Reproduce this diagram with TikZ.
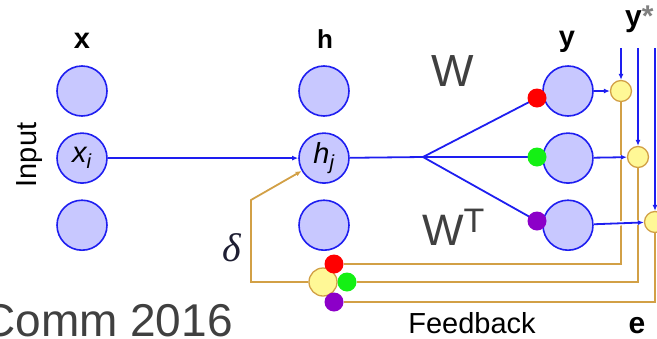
\documentclass[tikz,border=0pt]{standalone}
\usepackage{fontspec}
\setmainfont{Liberation Sans}
\newfontfamily\greekfont{Liberation Serif}
\usetikzlibrary{positioning, arrows.meta}

\definecolor{netblue}{RGB}{30,30,240}
\definecolor{unitfill}{RGB}{200,200,255}
\definecolor{fbgold}{RGB}{210,160,70}
\definecolor{errfill}{RGB}{255,248,150}
\definecolor{textgray}{RGB}{64,64,64}
\definecolor{dotred}{RGB}{255,0,0}
\definecolor{dotgreen}{RGB}{20,240,20}
\definecolor{dotpurple}{RGB}{140,0,200}

\begin{document}
\begin{tikzpicture}[
  x=1pt, y=-1pt,          % 1 unit = 1 pixel, y downwards
  >={Latex[length=6pt, width=5pt]},
  unit/.style={circle, draw=netblue, fill=unitfill, line width=1.6pt, minimum size=50pt, inner sep=0pt,
               font=\fontsize{29}{29}\selectfont\itshape},
  errnode/.style={circle, draw=fbgold, fill=errfill, line width=1.3pt, minimum size=21pt, inner sep=0pt},
  wdot/.style={circle, fill=#1, minimum size=19pt, inner sep=0pt},
  wire/.style={netblue, line width=1.8pt},
  fb/.style={fbgold, line width=1.8pt},
  lab/.style={font=\fontsize{#1}{#1}\selectfont\bfseries, anchor=base, inner sep=0pt},
  big/.style={font=\fontsize{#1}{#1}\selectfont, text=textgray, anchor=base, inner sep=0pt},
  node distance=15.5pt    % gap between the circles of one column
  ]

  \useasboundingbox (0,0) rectangle (657,338);

  % --- input layer x ---
  \node [unit] (x1) at (82,91) {};
  \node [unit, below=of x1] (x2) {x\textsubscript{i}};
  \node [unit, below=of x2] (x3) {};
  \node [lab=29] (xlab) at (82,48) {x};
  \node [font=\fontsize{29}{29}\selectfont, rotate=90, anchor=base, inner sep=0pt] (inlab) at (36,155) {Input};

  % --- hidden layer h ---
  \node [unit] (h1) at (324,91) {};
  \node [unit, below=of h1] (h2) {h\textsubscript{j}};
  \node [unit, below=of h2] (h3) {};
  \node [lab=26] (hlab) at (325,48) {h};

  % --- output layer y ---
  \node [unit] (y1) at (568,91) {};
  \node [unit, below=of y1] (y2) {};
  \node [unit, below=of y2] (y3) {};
  \node [lab=29] (ylab) at (567,46) {y};
  \node [lab=30, anchor=base west] (tlab) at (625,26) {y\textcolor{gray}{*}};

  % --- error units e ---
  \node [errnode] (e1) at (621,91) {};
  \node [errnode] (e2) at (638,157) {};
  \node [errnode] (e3) at (655,222) {};
  \coordinate (t1) at (621,48);
  \coordinate (t2) at (638,48);
  \coordinate (t3) at (655,48);

  % --- feedback sum ---
  \coordinate (br) at (423,157);
  \coordinate (fbc) at (251,282);
  \coordinate (fbt) at (251,200);
  \node [errnode, minimum size=28pt] (fbsum) at (323,282) {};
  \node [wdot=dotred] (fr) at (334,264) {};
  \node [wdot=dotgreen] (fg) at (347,282) {};
  \node [wdot=dotpurple] (fp) at (334,302) {};

  % feedback lines (gold)
  \draw [fb] (e1) |- (fr);
  \draw [fb] (e2) |- (fg);
  \draw [fb] (e3) |- (fp);
  \draw [fb, ->] (fbsum) -- (fbc) -- (fbt) -- (h2);

  % forward lines (blue)
  \draw [wire, ->] (x2) -- (h2);
  \draw [wire] (h2) -- (br);
  \draw [wire] (br) -- (537,98);
  \draw [wire] (br) -- (537,157);
  \draw [wire] (br) -- (537,221);
  \node [wdot=dotred] (wr) at (537,98) {};
  \node [wdot=dotgreen] (wg) at (537,157) {};
  \node [wdot=dotpurple] (wp) at (537,221) {};

  \draw [wire, ->, preaction={draw=white, line width=4.5pt}] (y1) -- (e1);
  \draw [wire, ->, preaction={draw=white, line width=4.5pt}] (y2) -- (e2);
  \draw [wire, ->, preaction={draw=white, line width=4.5pt}] (y3) -- (e3);
  \draw [wire, ->] (t1) -- (e1);
  \draw [wire, ->] (t2) -- (e2);
  \draw [wire, ->] (t3) -- (e3);

  % --- labels ---
  \node [big=45] (wlab) at (453,86) {W};
  \node [big=44, anchor=base west] (wtlab) at (422,245) {W\raisebox{13pt}{\fontsize{34}{34}\selectfont T}};
  \node [font=\fontsize{40}{40}\selectfont\greekfont\itshape, text={rgb,255:red,30;green,30;blue,50}, inner sep=0pt] (delta) at (232,248) {δ};
  \node [font=\fontsize{29}{29}\selectfont, anchor=base, inner sep=0pt] (fblab) at (472,333) {Feedback};
  \node [lab=30] (elab) at (637,333) {e};
  \node [big=46, anchor=base east] (cite) at (233,336) {Comm 2016};

\end{tikzpicture}
\end{document}
